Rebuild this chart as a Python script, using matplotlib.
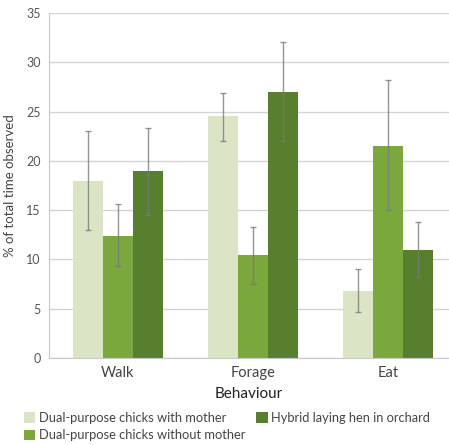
import matplotlib
matplotlib.use("Agg")
import matplotlib.pyplot as plt
import numpy as np

categories = ["Walk", "Forage", "Eat"]
series_names = ["Dual-purpose chicks with mother",
                "Dual-purpose chicks without mother",
                "Hybrid laying hen in orchard"]
means = {
    "Dual-purpose chicks with mother": [18.0, 24.5, 6.8],
    "Dual-purpose chicks without mother": [12.4, 10.4, 21.5],
    "Hybrid laying hen in orchard": [19.0, 27.0, 11.0],
}
err_low = {
    "Dual-purpose chicks with mother": [13.0, 22.0, 4.7],
    "Dual-purpose chicks without mother": [9.3, 7.5, 15.0],
    "Hybrid laying hen in orchard": [14.5, 22.0, 8.2],
}
err_high = {
    "Dual-purpose chicks with mother": [23.0, 26.9, 9.0],
    "Dual-purpose chicks without mother": [15.6, 13.3, 28.2],
    "Hybrid laying hen in orchard": [23.3, 32.0, 13.8],
}
colors = ["#dbe5c6", "#7aa83d", "#577f2e"]
yticks = [0, 5, 10, 15, 20, 25, 30, 35]

plt.rcParams['font.family'] = ['Lato', 'DejaVu Sans']

fig = plt.figure(figsize=(4.49, 4.45), dpi=100)
ax = fig.add_axes([0.109, 0.1955, 0.891, 0.7755])

x = np.arange(len(categories))
w = 0.222
for i, name in enumerate(series_names):
    xs = x + (i - 1) * w
    m = np.array(means[name])
    lo = m - np.array(err_low[name])
    hi = np.array(err_high[name]) - m
    ax.bar(xs, m, width=w, color=colors[i], label=name, zorder=2)
    ax.errorbar(xs, m, yerr=[lo, hi], fmt='none', ecolor='#7a7a7a',
                elinewidth=1.0, capsize=2.5, capthick=1.0, alpha=0.8, zorder=3)

ax.set_xlim(-0.51, 2.45)
ax.set_ylim(0, 35)
ax.set_yticks(yticks)
ax.set_yticklabels([str(t) for t in yticks], fontsize=9, color='#555555')
ax.set_xticks(x)
ax.set_xticklabels(categories, fontsize=10.5, color='#444444')
ax.tick_params(axis='both', length=0, pad=6)
ax.yaxis.grid(True, color='#d4d4d4', linewidth=1.0, zorder=0)
ax.set_axisbelow(True)
for s in ['top', 'right']:
    ax.spines[s].set_visible(False)
ax.spines['left'].set_color('#c8c8c8')
ax.spines['bottom'].set_color('#c8c8c8')
ax.set_ylabel("% of total time observed", fontsize=9.5, color='#444444', labelpad=7)
ax.set_xlabel("Behaviour", fontsize=11, color='#222222', labelpad=5)

handles, labels = ax.get_legend_handles_labels()
leg = fig.legend(handles, labels,
                 loc='lower left', bbox_to_anchor=(0.027, -0.018), ncol=2,
                 frameon=False, handlelength=0.9, handleheight=0.9,
                 handletextpad=0.3, columnspacing=0.8, labelspacing=0.4,
                 prop={'size': 9.3})
for t in leg.get_texts():
    t.set_color('#444444')

fig.savefig("out.png", dpi=100)
